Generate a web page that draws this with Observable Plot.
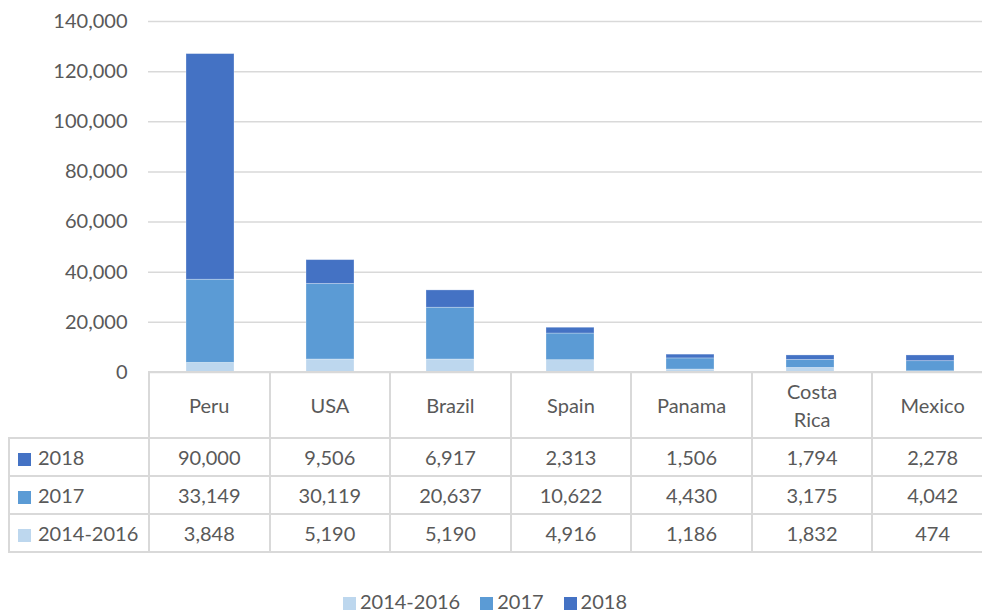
<!DOCTYPE html>
<html><head><meta charset="utf-8">
<script src="https://cdn.jsdelivr.net/npm/d3@7"></script>
<script src="https://cdn.jsdelivr.net/npm/@observablehq/plot@0.6"></script>
<style>
body{margin:0;background:#fff;font-family:Lato,"Open Sans",sans-serif;color:#595959;overflow:hidden;}
#wrap{width:982px;height:612px;position:relative;overflow:hidden;}
#chart{width:1000px;}
#chart svg{display:block;max-width:none !important;}
table{border-collapse:collapse;position:absolute;left:8px;top:371px;table-layout:fixed;font-size:20px;color:#595959;}
td{border:2px solid #D9D9D9;text-align:center;padding:0;line-height:28px;}
td.hdr{height:64px;padding:0 18px;}
td.val{height:36px;}
td.first{text-align:left;padding-left:8px;white-space:nowrap;}
td.blank{border-top:none;border-left:none;}
.sw{display:inline-block;width:13px;height:13px;margin-right:7px;vertical-align:-1px;}
#legend{position:absolute;left:-6px;width:982px;top:589px;text-align:center;font-size:20px;color:#595959;}
#legend span.item{margin:0 10px;}
</style>
</head><body>
<div id="wrap"><div id="chart"></div><div id="table"></div><div id="legend"></div></div>
<script>
const countries = ["Peru","USA","Brazil","Spain","Panama","Costa Rica","Mexico"];
const series = ["2014-2016","2017","2018"];
const colors = ["#BDD7EE","#5B9BD5","#4472C4"];
const v2014_2016 = [3848,5190,5190,4916,1186,1832,474];
const v2017 = [33149,30119,20637,10622,4430,3175,4042];
const v2018 = [90000,9506,6917,2313,1506,1794,2278];
const yTicks = [0,20000,40000,60000,80000,100000,120000,140000];

const values = [v2014_2016, v2017, v2018];
const data = series.flatMap((s,i)=>countries.map((c,j)=>({country:c, series:s, value:values[i][j]})));
const fmt = d3.format(",");

const plot = Plot.plot({
  width: 992, height: 385,
  marginLeft: 148, marginRight: 0, marginTop: 21, marginBottom: 13,
  style: {fontFamily: "Lato, 'Open Sans', sans-serif", fontSize: "20px", color: "#595959", background: "transparent", maxWidth: "none"},
  x: {domain: countries, paddingInner: 0.6, paddingOuter: 0.3, axis: null},
  y: {domain: [0,140000], axis: null},
  color: {domain: series, range: colors},
  marks: [
    Plot.gridY(yTicks, {stroke: "#D9D9D9", strokeOpacity: 1, strokeWidth: 1.5}),
    Plot.barY(data, {x: "country", y: "value", fill: "series", stroke: "white", strokeOpacity: 0.35, strokeWidth: 0.8}),
    Plot.axisY(yTicks, {tickSize: 0, tickPadding: 21, tickFormat: fmt, label: null, fontSize: 20, fill: "#595959"})
  ]
});
document.getElementById("chart").appendChild(plot);

const xs = plot.scale("x");
const step = (xs.range[1]-xs.range[0]) / countries.length;
const firstW = xs.range[0] - 8;

const table = d3.select("#table").append("table").style("width", (firstW + step*countries.length) + "px");
const cg = table.append("colgroup");
cg.append("col").style("width", firstW+"px");
countries.forEach(()=>cg.append("col").style("width", step+"px"));
const hr = table.append("tr");
hr.append("td").attr("class","hdr blank");
countries.forEach(c=>hr.append("td").attr("class","hdr").text(c));
[2,1,0].forEach(i=>{
  const tr = table.append("tr");
  const f = tr.append("td").attr("class","val first");
  f.append("span").attr("class","sw").style("background", colors[i]);
  f.append("span").text(series[i]);
  values[i].forEach(v=>tr.append("td").attr("class","val").text(fmt(v)));
});

const lg = d3.select("#legend");
series.forEach((s,i)=>{
  const it = lg.append("span").attr("class","item");
  it.append("span").attr("class","sw").style("background", colors[i]).style("margin-right","4px");
  it.append("span").text(s);
});
</script>
</body></html>
